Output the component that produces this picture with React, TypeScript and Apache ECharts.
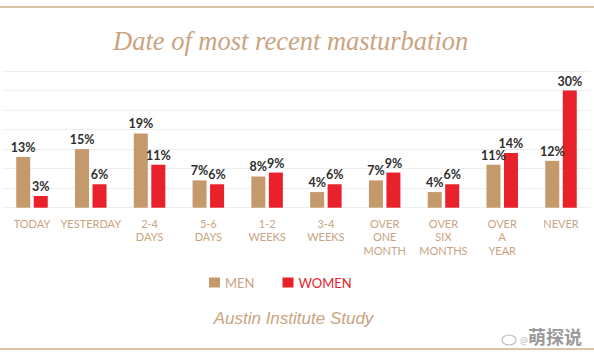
import React, { useEffect, useRef } from "react";
import * as echarts from "echarts";

const categories = [
  "TODAY",
  "YESTERDAY",
  "2-4\nDAYS",
  "5-6\nDAYS",
  "1-2\nWEEKS",
  "3-4\nWEEKS",
  "OVER\nONE\nMONTH",
  "OVER\nSIX\nMONTHS",
  "OVER\nA\nYEAR",
  "NEVER",
];
const menValues = [13, 15, 19, 7, 8, 4, 7, 4, 11, 12];
const womenValues = [3, 6, 11, 6, 9, 6, 9, 6, 14, 30];
const seriesNames = ["MEN", "WOMEN"];

const TAN = "#c49a6c";
const RED = "#e8212b";
const TEXT_TAN = "#c9a47f";
const LINE_TAN = "#dcc3a8";

export default function App() {
  const ref = useRef<HTMLDivElement>(null);
  useEffect(() => {
    if (!ref.current) return;
    const chart = echarts.init(ref.current, undefined, { renderer: "svg" });
    const labelStyle = {
      show: true,
      position: "top" as const,
      distance: 3,
      formatter: "{c}%",
      color: "#2e2e2e",
      fontFamily: "Lato",
      fontWeight: "bold" as const,
      fontSize: 12.5,
    };
    chart.setOption({
      animation: false,
      backgroundColor: "#ffffff",
      title: {
        text: "Date of most recent masturbation",
        left: 108,
        top: 22,
        textStyle: {
          fontFamily: "Liberation Serif",
          fontStyle: "italic",
          fontWeight: "normal",
          fontSize: 26.5,
          color: TEXT_TAN,
        },
      },
      legend: {
        left: 204,
        top: 271,
        itemWidth: 11,
        itemHeight: 10,
        itemGap: 28,
        icon: "rect",
        textStyle: { fontFamily: "Lato", fontSize: 13 },
        data: [
          { name: seriesNames[0], textStyle: { color: TEXT_TAN } },
          { name: seriesNames[1], textStyle: { color: RED } },
        ],
      },
      grid: { left: 2.6, right: 3.6, top: 71, bottom: 151.3, containLabel: false },
      xAxis: {
        type: "category",
        data: categories,
        axisLine: { show: false },
        axisTick: { show: false },
        axisLabel: {
          interval: 0,
          margin: 9,
          color: TEXT_TAN,
          fontFamily: "Lato",
          fontSize: 11,
          lineHeight: 13.5,
        },
      },
      yAxis: {
        type: "value",
        min: 0,
        max: 35,
        interval: 5,
        axisLabel: { show: false },
        axisLine: { show: false },
        axisTick: { show: false },
        splitLine: { lineStyle: { color: "#eeeeee", width: 1 } },
      },
      series: [
        {
          name: seriesNames[0],
          type: "bar",
          data: menValues,
          barWidth: 14,
          barGap: "25%",
          itemStyle: { color: TAN },
          label: labelStyle,
        },
        {
          name: seriesNames[1],
          type: "bar",
          data: womenValues,
          barWidth: 14,
          barGap: "25%",
          itemStyle: { color: RED },
          label: labelStyle,
        },
      ],
      graphic: [
        {
          type: "line",
          shape: { x1: 0, y1: 7, x2: 594, y2: 7 },
          style: { stroke: LINE_TAN, lineWidth: 2 },
        },
        {
          type: "line",
          shape: { x1: 0, y1: 349, x2: 594, y2: 349 },
          style: { stroke: LINE_TAN, lineWidth: 2 },
        },
        {
          type: "text",
          x: 293.5,
          y: 318,
          style: {
            text: "Austin Institute Study",
            fontFamily: "Liberation Sans",
            fontStyle: "italic",
            fontSize: 17,
            fill: TEXT_TAN,
            align: "center",
            verticalAlign: "middle",
          },
        },
        {
          type: "rect",
          shape: { x: 520, y: 326, width: 64, height: 20 },
          style: { fill: "#ffffff" },
        },
        {
          type: "ellipse",
          shape: { cx: 509, cy: 340, rx: 7, ry: 5 },
          style: { fill: "none", stroke: "#bbbbbb", lineWidth: 1.2 },
        },
        {
          type: "text",
          x: 520,
          y: 340,
          style: {
            text: "@",
            fontFamily: "Noto Sans",
            fontSize: 9,
            fill: "#bbbbbb",
            align: "left",
            verticalAlign: "middle",
          },
        },
        {
          type: "text",
          x: 555,
          y: 336,
          style: {
            text: "萌探说",
            fontFamily: "Noto Sans CJK SC",
            fontWeight: "bold",
            fontSize: 18,
            fill: "#9a9a9a",
            align: "center",
            verticalAlign: "middle",
          },
        },
      ],
    });
    return () => chart.dispose();
  }, []);
  return (
    <div
      ref={ref}
      style={{ position: "fixed", left: 0, top: 0, width: 594, height: 359 }}
    />
  );
}
